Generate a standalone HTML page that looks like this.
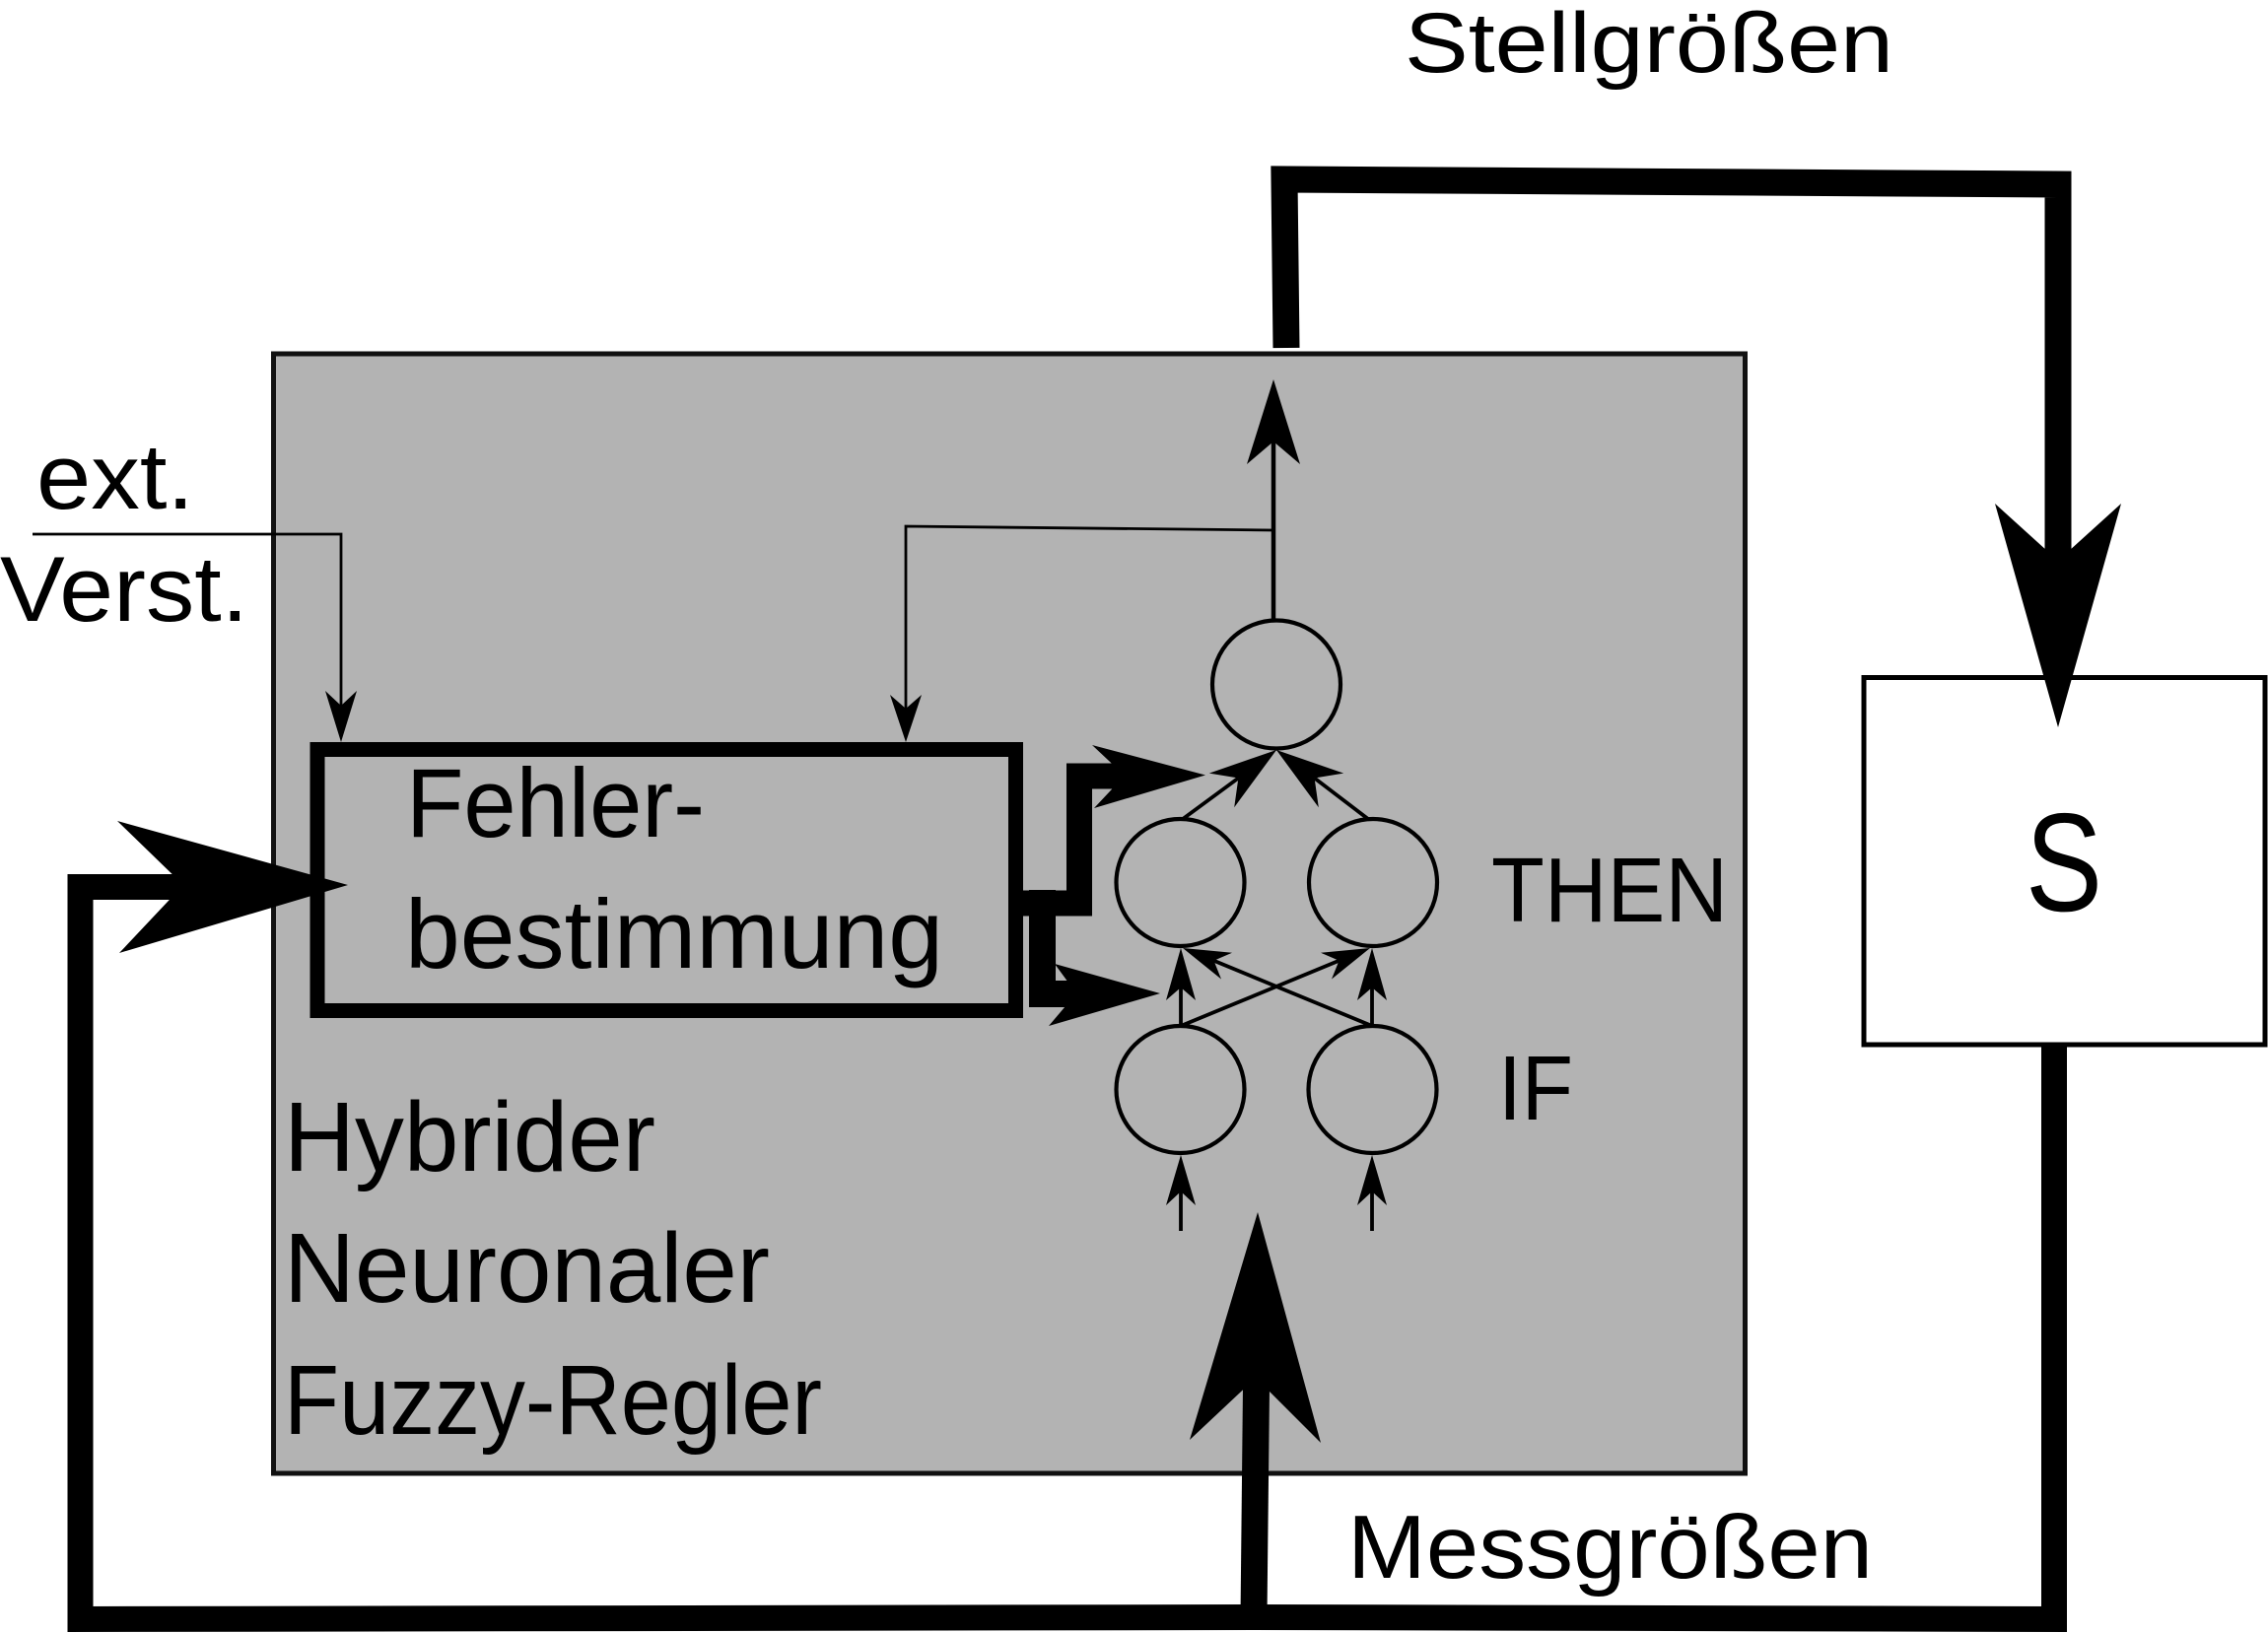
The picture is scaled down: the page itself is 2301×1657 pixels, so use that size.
<!DOCTYPE html>
<html>
<head>
<meta charset="utf-8">
<style>
  html,body{margin:0;padding:0;background:#fff;}
  svg{display:block;}
  text{font-family:"Liberation Sans",sans-serif;fill:#000;}
</style>
</head>
<body>
<svg width="2301" height="1657" viewBox="0 0 2301 1657" xmlns="http://www.w3.org/2000/svg">
  <rect x="0" y="0" width="2301" height="1657" fill="#fff"/>

  <!-- Gray controller box -->
  <rect x="277.5" y="359" width="1493" height="1136" fill="#b3b3b3" stroke="#111" stroke-width="5"/>

  <!-- S box -->
  <rect x="1891" y="687.5" width="407" height="372.5" fill="#fff" stroke="#000" stroke-width="5"/>

  <!-- Fehlerbestimmung box -->
  <rect x="322" y="760.5" width="708.5" height="265" fill="none" stroke="#000" stroke-width="15"/>

  <!-- Top loop (Stellgrößen) -->
  <polyline points="1305,353 1303,182 2088,187 2088,600" fill="none" stroke="#000" stroke-width="27" stroke-linejoin="miter"/>
  <polygon points="2088,738 2152,511 2088,569 2024,511" fill="#000"/>

  <!-- Bottom / left loop (Messgrößen) -->
  <polyline points="240,900 81.5,900 81.5,1643 1272,1641 2084,1643 2084,1060" fill="none" stroke="#000" stroke-width="26" stroke-linejoin="miter"/>
  <polygon points="353,898 121,967 186,898 119,833" fill="#000"/>
  <line x1="1272" y1="1641" x2="1275" y2="1360" stroke="#000" stroke-width="27"/>
  <polygon points="1276,1230 1340,1464 1274,1398 1207,1461" fill="#000"/>

  <!-- Thick connectors from Fehlerbestimmung -->
  <polyline points="1038,916.5 1095,916.5 1095,787.5 1150,787.5" fill="none" stroke="#000" stroke-width="26" stroke-linejoin="miter"/>
  <polygon points="1223,786.5 1110,820 1141,787 1108,756" fill="#000"/>
  <polyline points="1057.5,903 1057.5,1008.5 1100,1008.5" fill="none" stroke="#000" stroke-width="27" stroke-linejoin="miter"/>
  <polygon points="1177,1008 1064,1041 1092,1008 1070,978" fill="#000"/>

  <!-- ext. Verst. connector -->
  <polyline points="33,542 346,542 346,716" fill="none" stroke="#000" stroke-width="2.8"/>
  <polygon points="346,753 362,701 346,716 330,701" fill="#000"/>

  <!-- Feedback connector -->
  <polyline points="1292,538 919,534 919,719" fill="none" stroke="#000" stroke-width="2.8"/>
  <polygon points="919,753 935,705 919,719 903,705" fill="#000"/>

  <!-- Output arrow -->
  <line x1="1292" y1="629" x2="1292" y2="448" stroke="#000" stroke-width="4.5"/>
  <polygon points="1292,385 1319,471 1292,448 1265,471" fill="#000"/>

  <!-- Neurons -->
  <g fill="none" stroke="#000" stroke-width="4.2">
    <ellipse cx="1295" cy="694.5" rx="65" ry="65"/>
    <ellipse cx="1197.5" cy="895.5" rx="65" ry="64.5"/>
    <ellipse cx="1393" cy="895.5" rx="65" ry="64.5"/>
    <ellipse cx="1197.5" cy="1105.5" rx="65" ry="64.5"/>
    <ellipse cx="1392.5" cy="1105.5" rx="65" ry="64.5"/>
  </g>

  <!-- Network connections -->
  <g stroke="#000" stroke-width="3.8" fill="none">
    <line x1="1200" y1="831" x2="1256.4" y2="789.5"/>
    <line x1="1388" y1="831" x2="1333.6" y2="789.5"/>
    <line x1="1198" y1="1041" x2="1198" y2="1002"/>
    <line x1="1392" y1="1041" x2="1392" y2="1002"/>
    <line x1="1198" y1="1041" x2="1358.5" y2="974.8"/>
    <line x1="1392" y1="1041" x2="1231.5" y2="974.8"/>
    <line x1="1198" y1="1249" x2="1198" y2="1209"/>
    <line x1="1392" y1="1249" x2="1392" y2="1209"/>
  </g>
  <g fill="#000">
    <polygon points="1295,761 1252.2,819.2 1256.4,789.5 1226.8,784.6"/>
    <polygon points="1295,761 1337.8,819.2 1333.6,789.5 1363.2,784.6"/>
    <polygon points="1198,962 1213,1015 1198,1002 1183,1015"/>
    <polygon points="1392,962 1407,1015 1392,1002 1377,1015"/>
    <polygon points="1390,962 1351,993.5 1358.5,974.8 1340,966.7"/>
    <polygon points="1200,962 1239,993.5 1231.5,974.8 1250,966.7"/>
    <polygon points="1198,1172 1213,1223 1198,1209 1183,1223"/>
    <polygon points="1392,1172 1407,1223 1392,1209 1377,1223"/>
  </g>

  <!-- Text -->
  <text x="1425" y="73" font-size="86" textLength="496" lengthAdjust="spacingAndGlyphs">Stellgrößen</text>
  <text x="1367" y="1601" font-size="91" textLength="533" lengthAdjust="spacingAndGlyphs">Messgrößen</text>
  <text x="37" y="516" font-size="94" textLength="160" lengthAdjust="spacingAndGlyphs">ext.</text>
  <text x="0" y="630" font-size="94" textLength="252" lengthAdjust="spacingAndGlyphs">Verst.</text>
  <text x="412" y="849" font-size="99" textLength="303" lengthAdjust="spacingAndGlyphs">Fehler-</text>
  <text x="411" y="982" font-size="99" textLength="546" lengthAdjust="spacingAndGlyphs">bestimmung</text>
  <text x="288" y="1188" font-size="100" textLength="377" lengthAdjust="spacingAndGlyphs">Hybrider</text>
  <text x="288" y="1321" font-size="100" textLength="493" lengthAdjust="spacingAndGlyphs">Neuronaler</text>
  <text x="288" y="1455" font-size="100" textLength="546" lengthAdjust="spacingAndGlyphs">Fuzzy-Regler</text>
  <text x="1513" y="935" font-size="93" textLength="240" lengthAdjust="spacingAndGlyphs">THEN</text>
  <text x="1520" y="1136" font-size="93" textLength="76" lengthAdjust="spacingAndGlyphs">IF</text>
  <text x="2055" y="924" font-size="142" textLength="78" lengthAdjust="spacingAndGlyphs">S</text>
</svg>
</body>
</html>
